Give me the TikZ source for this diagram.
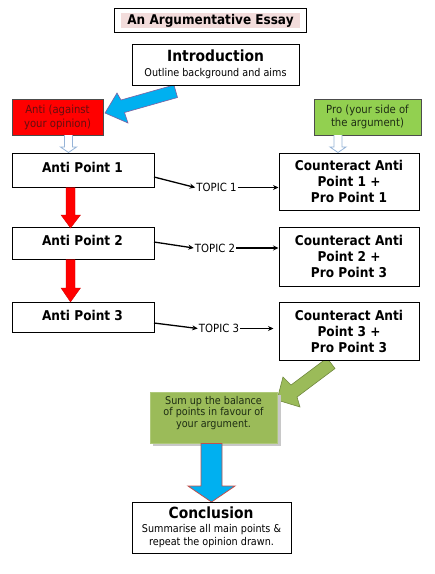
\documentclass[tikz,border=0pt]{standalone}
\usepackage{fontspec}
\setmainfont{DejaVu Sans}[FakeStretch=0.9]
\usetikzlibrary{calc,arrows.meta}
\definecolor{titlepink}{HTML}{F2DCDB}
\definecolor{cyanfill}{HTML}{00B0F0}
\definecolor{cyanedge}{HTML}{7F5FA0}
\definecolor{downedge}{HTML}{C0504D}
\definecolor{progreen}{HTML}{92D050}
\definecolor{sumgreen}{HTML}{9BBB59}
\definecolor{sumedge}{HTML}{71893F}
\definecolor{hollowedge}{HTML}{95B3D7}
\definecolor{antitext}{RGB}{100,15,15}
\definecolor{protext}{RGB}{30,45,20}
\definecolor{shadowgray}{HTML}{C8C8C8}
\tikzset{
  box/.style={draw=black, line width=1pt, fill=white, inner sep=0pt},
  boldtxt/.style={font=\fontsize{13.5}{16}\selectfont\bfseries, align=center, inner sep=0pt},
  bigtxt/.style={font=\fontsize{15.4}{18}\selectfont\bfseries, inner sep=0pt},
  smalltxt/.style={font=\fontsize{10.7}{12}\selectfont, inner sep=0pt},
  topictxt/.style={font=\fontsize{11.3}{13}\selectfont, inner sep=1pt},
  topicarrow/.style={line width=1.3pt, -{Stealth[length=5.5pt,width=5pt]}},
  hollow/.style={draw=hollowedge, fill=white, line width=0.8pt},
  redarrow/.style={fill=red, draw=red!80!black, line width=0.3pt},
}
\begin{document}
\begin{tikzpicture}[x=1pt,y=-1pt]
\useasboundingbox (0,0) rectangle (435,574);
\fill[white] (0,0) rectangle (435,574);

% title
\node[box, minimum width=192pt, minimum height=24pt] (titlebox) at (210,20.5) {};
\node[fill=titlepink, minimum width=179pt, minimum height=15pt, inner sep=0pt,
      font=\fontsize{13.4}{16}\selectfont\bfseries] (title) at (210.5,20.5) {An Argumentative Essay};

% blue diagonal arrow (drawn before intro box)
\draw[fill=cyanfill, draw=cyanedge, line width=0.6pt]
  (174,85) -- (121,100) -- (117,93) -- (105,113) -- (128,123) -- (124.5,112.5) -- (177.5,97.5) -- cycle;

% introduction
\node[box, minimum width=167pt, minimum height=41pt] (intro) at (215.5,64.5) {};
\node[bigtxt] (introT) at (215.5,56) {Introduction};
\node[smalltxt] (introS) at (215.5,73.5) {Outline background and aims};

% anti / pro header boxes
\node[draw=black!70, line width=0.6pt, fill=red, minimum width=91pt, minimum height=36pt,
      font=\fontsize{11.2}{14}\selectfont, text=antitext, align=center, inner sep=0pt] (anti) at (57.5,117)
      {Anti (against\\your opinion)};
\node[draw=black!70, line width=0.6pt, fill=progreen, minimum width=107pt, minimum height=36pt,
      font=\fontsize{11.2}{13.5}\selectfont, text=protext, align=center, inner sep=0pt] (pro) at (367.5,117)
      {Pro (your side of\\the argument)};

% hollow arrows
\draw[hollow] (64.5,135) -- (64.5,147) -- (60.5,147) -- (68.5,152.5) -- (76.5,147) -- (72.5,147) -- (72.5,135);
\draw[hollow] (334,135) -- (334,147) -- (330,147) -- (338,152.5) -- (346,147) -- (342,147) -- (342,135);

% anti point boxes
\node[box, minimum width=142pt, minimum height=34pt] (a1) at (83,170) {};
\node[boldtxt] (a1t) at (82.5,167) {Anti Point 1};
\node[box, minimum width=142pt, minimum height=32pt] (a2) at (83,243) {};
\node[boldtxt] (a2t) at (82.5,240.5) {Anti Point 2};
\node[box, minimum width=142pt, minimum height=30pt] (a3) at (83,317) {};
\node[boldtxt] (a3t) at (82.5,315.5) {Anti Point 3};

% red arrows
\draw[redarrow] (66,187.5) -- (66,215) -- (61,215) -- (70.5,228) -- (80.5,215) -- (75,215) -- (75,187.5) -- cycle;
\draw[redarrow] (66,259.5) -- (66,288) -- (61,288) -- (70.5,302) -- (80.5,288) -- (75,288) -- (75,259.5) -- cycle;

% green diagonal arrow (before counteract 3 box)
\draw[fill=sumgreen, draw=sumedge, line width=0.6pt]
  (327,358) -- (291,385) -- (283,377) -- (277,400) -- (300,407) -- (297,397) -- (335,368.5) -- cycle;

% counteract boxes
\node[box, minimum width=140pt, minimum height=57pt] (c1) at (349,181.5) {};
\node[boldtxt] (c1t) at (349,181) {Counteract Anti\\Point 1 +\\Pro Point 1};
\node[box, minimum width=140pt, minimum height=59pt] (c2) at (349,256.5) {};
\node[boldtxt] (c2t) at (349,256.5) {Counteract Anti\\Point 2 +\\Pro Point 3};
\node[box, minimum width=140pt, minimum height=58pt] (c3) at (349,331) {};
\node[boldtxt] (c3t) at (349,331.5) {Counteract Anti\\Point 3 +\\Pro Point 3};

% topics
\node[topictxt] (t1) at (216.5,187.5) {TOPIC 1};
\node[topictxt] (t2) at (215,248) {TOPIC 2};
\node[topictxt] (t3) at (219,328.5) {TOPIC 3};
\coordinate (a1o) at (154,177);
\coordinate (a2o) at (154,242);
\coordinate (a3o) at (154,323);
\draw[topicarrow] (a1o) -- (t1.west);
\draw[topicarrow] (t1.east) -- (t1.east -| c1.west);
\draw[topicarrow] (a2o) -- (t2.west);
\draw[topicarrow] (t2.east) -- (t2.east -| c2.west);
\draw[topicarrow] (a3o) -- (t3.west);
\draw[topicarrow] (t3.east) -- ($(t3.east -| c3.west)+(-5,0)$);

% sum up box
\fill[shadowgray] (153,395) rectangle (280.5,446);
\node[draw=sumgreen!80!white, line width=0.6pt, fill=sumgreen, minimum width=127pt, minimum height=51pt, inner sep=0pt] (sum) at (213.5,417.5) {};
\node[font=\fontsize{10.7}{11.3}\selectfont, text=protext, align=center, inner sep=0pt] (sumt) at (213.5,413)
  {Sum up the balance\\of points in favour of\\your argument.};

% blue down arrow
\draw[fill=cyanfill, draw=downedge, line width=0.8pt]
  (201,443.5) -- (201,486) -- (188,486) -- (211.5,502) -- (235,486) -- (222,486) -- (222,443.5) -- cycle;

% conclusion
\node[box, minimum width=159pt, minimum height=51pt] (concl) at (211.5,527.5) {};
\node[bigtxt] (conclT) at (211,513) {Conclusion};
\node[smalltxt] (conclS1) at (211.5,530) {Summarise all main points \&};
\node[smalltxt] (conclS2) at (211.5,542.5) {repeat the opinion drawn.};
\end{tikzpicture}
\end{document}
